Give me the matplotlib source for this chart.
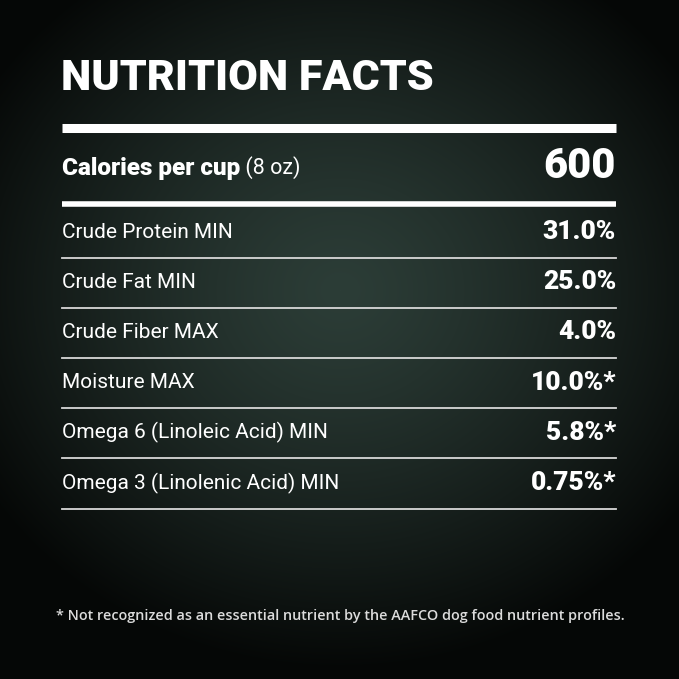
import numpy as np
import matplotlib
matplotlib.use("Agg")
import matplotlib.pyplot as plt

title = "NUTRITION FACTS"
calories_label = "Calories per cup"
calories_unit = "(8 oz)"
calories_value = "600"
nutrients = ["Crude Protein MIN", "Crude Fat MIN", "Crude Fiber MAX", "Moisture MAX",
             "Omega 6 (Linoleic Acid) MIN", "Omega 3 (Linolenic Acid) MIN"]
values = ["31.0%", "25.0%", "4.0%", "10.0%*", "5.8%*", "0.75%*"]
footnote = "* Not recognized as an essential nutrient by the AAFCO dog food nutrient profiles."

W = H = 679
fig = plt.figure(figsize=(6.79, 6.79), dpi=100)
ax = fig.add_axes([0, 0, 1, 1])
ax.set_xlim(0, W); ax.set_ylim(H, 0); ax.axis("off")

yy, xx = np.mgrid[0:H, 0:W]
d = np.sqrt(((xx - 340) / 420) ** 2 + ((yy - 290) / 380) ** 2)
t = np.clip(d, 0, 1) ** 1.3
c0 = np.array([0x2c, 0x3d, 0x37]) / 255
c1 = np.array([0x05, 0x07, 0x06]) / 255
img = c0[None, None, :] * (1 - t[..., None]) + c1[None, None, :] * t[..., None]
ax.imshow(img, extent=[0, W, H, 0], zorder=0)

white = "white"
ax.text(61, 78, title, color=white, fontsize=31, fontweight="black", family="Roboto",
        va="center", ha="left")
ax.plot([62, 616], [128, 128], color=white, lw=6.5, solid_capstyle="butt")
lab = ax.text(62, 168, calories_label, color=white, fontsize=17.5, fontweight="black",
              family="Roboto", va="center", ha="left")
ax.annotate(" " + calories_unit, xycoords=lab, xy=(1, 0.5), va="center", ha="left",
            color=white, fontsize=15.5, family="Roboto")
ax.text(616, 166, calories_value, color=white, fontsize=30, fontweight="black",
        family="Roboto", va="center", ha="right")
ax.plot([62, 616], [204, 204], color=white, lw=4, solid_capstyle="butt")

y0, step = 232, 50.2
for i, (n, v) in enumerate(zip(nutrients, values)):
    y = y0 + i * step
    ax.text(62, y, n, color=white, fontsize=15, family="Roboto", va="center", ha="left")
    ax.text(616, y, v, color=white, fontsize=19, fontweight="black", family="Roboto",
            va="center", ha="right")
    ax.plot([62, 616], [y + 25.5, y + 25.5], color="#d8d8d8", lw=1.3)

ax.text(340, 616, footnote, color="#dcdcdc", fontsize=10.4, fontweight="semibold",
        family="Open Sans", va="center", ha="center")
fig.savefig("out.png", dpi=100)
